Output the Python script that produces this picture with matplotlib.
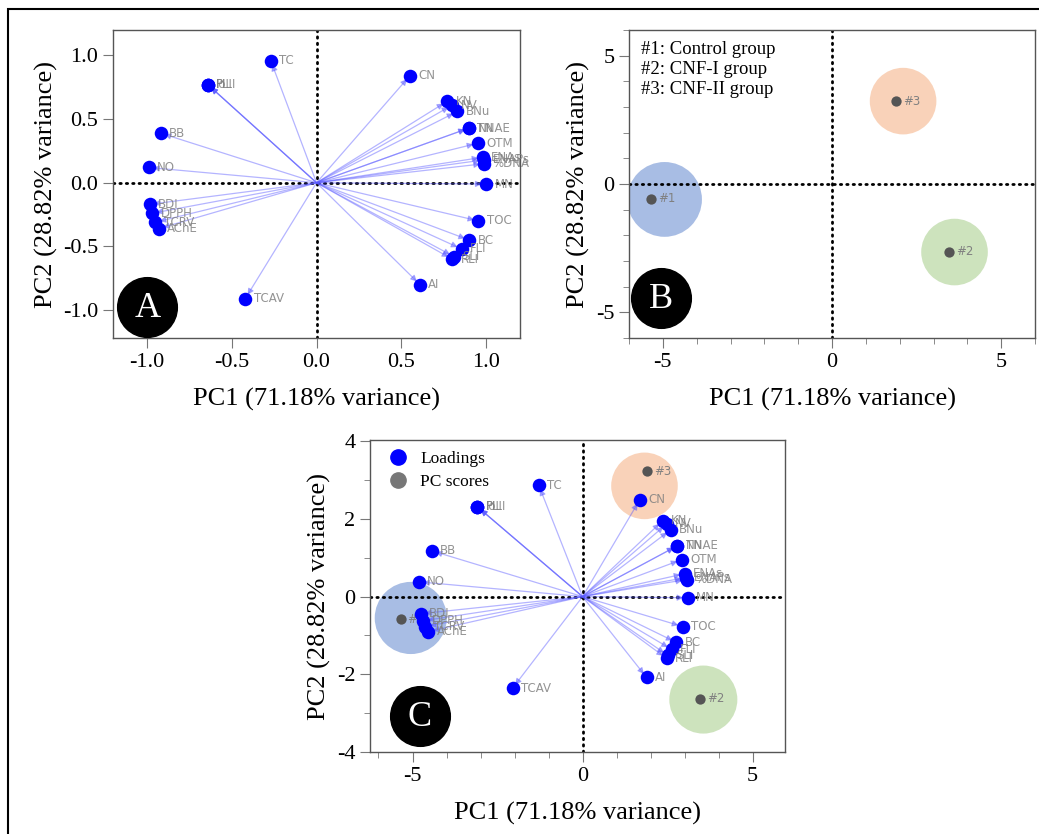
import matplotlib
matplotlib.use("Agg")
from matplotlib import pyplot as plt
from matplotlib.lines import Line2D
from matplotlib.patches import Rectangle

# loading names (several sit on top of each other)
names = ["TC", "PLI", "PI", "IoLI", "BB", "NO", "BDI", "DPPH", "TCRV", "AChE", "TCAV",
         "CN", "KN", "NV", "BNu", "TN", "NNAE", "OTM", "ENAs", "ENAPs", "%DNA", "MN",
         "TOC", "BC", "FLI", "SLI", "RLI", "AI"]

# panel A loadings
load_x = [-0.27, -0.64, -0.64, -0.64, -0.92, -0.99, -0.985, -0.97, -0.95, -0.93, -0.42,
          0.55, 0.77, 0.80, 0.83, 0.90, 0.90, 0.95, 0.98, 0.99, 0.99, 1.00,
          0.955, 0.90, 0.855, 0.81, 0.80, 0.61]
load_y = [0.96, 0.77, 0.77, 0.77, 0.39, 0.12, -0.17, -0.24, -0.31, -0.36, -0.91,
          0.84, 0.64, 0.61, 0.56, 0.43, 0.43, 0.31, 0.20, 0.18, 0.15, -0.01,
          -0.30, -0.45, -0.52, -0.58, -0.60, -0.80]

# panel C loadings (scaled biplot)
bi_x = [-1.29, -3.09, -3.09, -3.09, -4.44, -4.82, -4.76, -4.68, -4.62, -4.53, -2.06,
        1.68, 2.35, 2.47, 2.59, 2.79, 2.79, 2.91, 3.00, 3.03, 3.06, 3.09,
        2.94, 2.76, 2.62, 2.50, 2.47, 1.88]
bi_y = [2.87, 2.31, 2.31, 2.31, 1.18, 0.38, -0.44, -0.62, -0.77, -0.90, -2.36,
        2.49, 1.95, 1.87, 1.72, 1.31, 1.31, 0.95, 0.59, 0.49, 0.44, -0.03,
        -0.77, -1.18, -1.36, -1.51, -1.59, -2.08]

# PC scores
groups = ["#1", "#2", "#3"]
group_names = ["Control group", "CNF-I group", "CNF-II group"]
score_x = [-5.35, 3.46, 1.89]
score_y = [-0.58, -2.63, 3.23]
ring_x = [-4.95, 3.62, 2.10]
ring_y = [-0.60, -2.65, 3.23]
ringc_x = [-5.05, 3.55, 1.82]
ringc_y = [-0.55, -2.65, 2.85]
ring_s = [2900, 2300, 2300]
ring_c = ["#9fb6e1", "#c8e0b6", "#f9ceb2"]

plt.rcParams["font.family"] = ["Liberation Serif", "DejaVu Serif"]
plt.rcParams["axes.unicode_minus"] = False

fig = plt.figure(figsize=(10.39, 8.34), dpi=100)
axA = fig.add_axes([0.1088, 0.5947, 0.3917, 0.3693])
axB = fig.add_axes([0.6054, 0.5947, 0.3908, 0.3693])
axC = fig.add_axes([0.3561, 0.0983, 0.3994, 0.3741])

fig.patches.append(Rectangle((0.008, -0.01), 1.0, 0.999, transform=fig.transFigure,
                             fill=False, ec="black", lw=1.5))


def zero_lines(ax):
    ax.axhline(0, color="black", lw=2, linestyle=(0, (0.5, 1.8)), dash_capstyle="round", zorder=2)
    ax.axvline(0, color="black", lw=2, linestyle=(0, (0.5, 1.8)), dash_capstyle="round", zorder=2)


def loadings(ax, xs, ys, shrink):
    for x, y in zip(xs, ys):
        ax.annotate("", xy=(x, y), xytext=(0, 0),
                    arrowprops=dict(arrowstyle="-|>", color="#5a5aff", alpha=0.45, lw=0.9,
                                    shrinkA=0, shrinkB=shrink, mutation_scale=9), zorder=2)
    ax.scatter(xs, ys, s=95, color="blue", zorder=4, linewidths=0)
    for n, x, y in zip(names, xs, ys):
        ax.annotate(n, (x, y), xytext=(6, 0), textcoords="offset points", va="center",
                    fontsize=8.5, color="#808080", alpha=0.85, family="DejaVu Sans", zorder=5)


def style(ax, xlab, ylab):
    ax.set_xlabel(xlab, fontsize=19, labelpad=12)
    ax.set_ylabel(ylab, fontsize=19, labelpad=4)
    for s in ax.spines.values():
        s.set_color("#555555")
        s.set_linewidth(1.0)
    ax.tick_params(which="major", length=7, color="#777777", labelsize=16, direction="out")
    ax.tick_params(which="minor", length=4, color="#777777", direction="out")
    ax.tick_params(top=False, right=False)


def badge(ax, letter, fx, fy):
    ax.plot(fx, fy, "o", ms=43, color="black", transform=ax.transAxes, zorder=6, clip_on=False)
    ax.text(fx, fy - 0.005, letter, color="white", fontsize=26, ha="center", va="center",
            transform=ax.transAxes, zorder=7)


xlab = "PC1 (71.18% variance)"
ylab = "PC2 (28.82% variance)"

# --- A: loadings only
zero_lines(axA)
loadings(axA, load_x, load_y, 3)
axA.set_xlim(-1.2, 1.2)
axA.set_ylim(-1.22, 1.2)
axA.set_xticks([-1.0, -0.5, 0.0, 0.5, 1.0])
axA.set_xticklabels(["-1.0", "-0.5", "0.0", "0.5", "1.0"])
axA.set_yticks([-1.0, -0.5, 0.0, 0.5, 1.0])
axA.set_yticklabels(["-1.0", "-0.5", "0.0", "0.5", "1.0"])
style(axA, xlab, ylab)
badge(axA, "A", 0.084, 0.10)

# --- B: scores only
zero_lines(axB)
axB.scatter(ring_x, ring_y, s=ring_s, color=ring_c, alpha=0.9, linewidths=0, zorder=1)
axB.scatter(score_x, score_y, s=55, color="#555555", zorder=4, linewidths=0)
for g, x, y in zip(groups, score_x, score_y):
    axB.annotate(g, (x, y), xytext=(5, 0), textcoords="offset points", va="center",
                 fontsize=8.5, color="#808080", family="DejaVu Sans", zorder=5)
axB.text(0.03, 0.965, "\n".join(g + ": " + n for g, n in zip(groups, group_names)),
         transform=axB.transAxes, va="top", ha="left", fontsize=13.5, linespacing=1.22)
axB.set_xlim(-6, 6)
axB.set_ylim(-6, 6)
axB.set_xticks([-5, 0, 5])
axB.set_yticks([-5, 0, 5])
axB.set_xticks(range(-6, 7), minor=True)
axB.set_yticks(range(-6, 7), minor=True)
style(axB, xlab, ylab)
badge(axB, "B", 0.08, 0.13)

# --- C: biplot
zero_lines(axC)
axC.scatter(ringc_x, ringc_y, s=[2700, 2400, 2300],
            color=ring_c, alpha=0.9, linewidths=0, zorder=1)
axC.scatter(score_x, score_y, s=55, color="#555555", zorder=3, linewidths=0)
for g, x, y in zip(groups, score_x, score_y):
    axC.annotate(g, (x, y), xytext=(5, 0), textcoords="offset points", va="center",
                 fontsize=8.5, color="#808080", family="DejaVu Sans", zorder=3)
loadings(axC, bi_x, bi_y, 3)
handles = [Line2D([], [], marker="o", ls="", color="blue", ms=11),
           Line2D([], [], marker="o", ls="", color="#777777", ms=11)]
axC.legend(handles, ["Loadings", "PC scores"], loc="upper left", frameon=False,
           fontsize=12.5, handletextpad=0.3, borderaxespad=0.2, labelspacing=0.4)
axC.set_xlim(-6.25, 5.95)
axC.set_ylim(-4, 4.03)
axC.set_xticks([-5, 0, 5])
axC.set_yticks([-4, -2, 0, 2, 4])
axC.set_xticks(range(-6, 6), minor=True)
axC.set_yticks(range(-4, 5), minor=True)
style(axC, xlab, ylab)
badge(axC, "C", 0.12, 0.115)

fig.savefig("out.png", dpi=100)
